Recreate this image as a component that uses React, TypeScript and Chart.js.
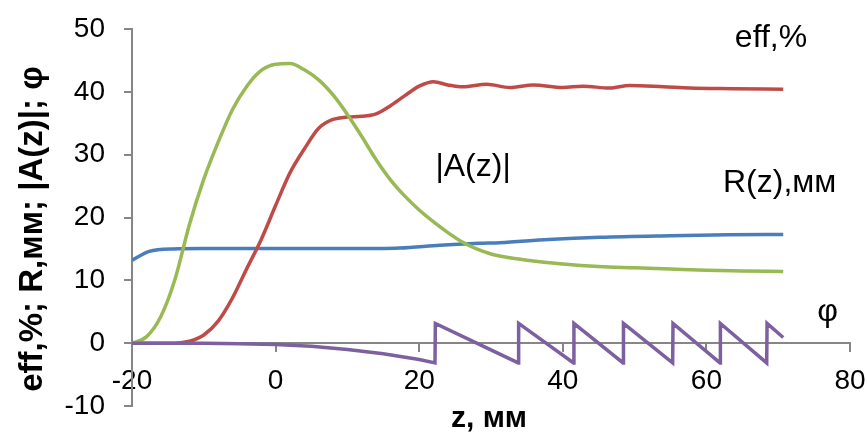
import React, { useEffect, useRef } from "react";
import { Chart, registerables } from "chart.js";

Chart.register(...registerables);

const FONT = "'Liberation Sans', Arial, sans-serif";
const AXIS_COLOR = "#868686";

// eff, %
const zEff = [-20, -14, -12, -10, -8, -6, -4, -2, 0, 2, 4, 6, 8, 10, 12, 14, 16, 18, 20, 22, 24, 26.1, 29.4, 32.6, 35.9, 40, 42.8, 46.5, 49.3, 54, 57.7, 63.7, 70.7];
const effValues = [0, 0, 0.3, 1.3, 3.5, 7.2, 11.9, 16.5, 21.9, 27.1, 30.9, 34.2, 35.6, 36.0, 36.1, 36.5, 37.8, 39.4, 40.9, 41.6, 41.1, 40.8, 41.2, 40.7, 41.1, 40.7, 40.9, 40.6, 41.0, 40.8, 40.6, 40.5, 40.4];

// |A(z)|
const zAmp = [-20, -18, -16, -14, -12, -10, -8, -6, -4, -2, 0, 2, 4, 6, 8, 10, 12, 14, 16, 18, 20, 22, 24, 26, 28, 30, 32, 35, 40, 45, 50, 55, 60, 65, 70.7];
const ampValues = [0, 1.0, 4.2, 10.2, 18.9, 26.1, 32.0, 37.2, 40.9, 43.4, 44.4, 44.5, 43.5, 41.9, 39.5, 36.4, 32.9, 29.2, 26.0, 23.4, 21.2, 19.3, 17.6, 16.1, 15.0, 14.2, 13.7, 13.2, 12.6, 12.2, 12.0, 11.8, 11.6, 11.5, 11.4];

// R(z), мм
const zR = [-20, -17.6, -14.3, -10, 0, 10, 17.3, 22.9, 28.4, 31.2, 38, 45.2, 55, 63, 70.7];
const rValues = [13.2, 14.6, 15.0, 15.05, 15.05, 15.05, 15.15, 15.6, 15.9, 16.0, 16.5, 16.85, 17.1, 17.25, 17.3];

// φ
const zPhi = [-20, -10, -5, 0, 5, 10, 15, 20, 22.2, 22.25, 33.8, 33.85, 41.5, 41.55, 48.4, 48.45, 55.3, 55.35, 61.9, 61.95, 68.4, 68.45, 70.7];
const phiValues = [0, -0.03, -0.08, -0.2, -0.5, -1.0, -1.7, -2.6, -3.14, 3.14, -3.14, 3.14, -3.14, 3.14, -3.14, 3.14, -3.14, 3.14, -3.14, 3.14, -3.14, 3.14, 0.9];

const xTicks = [-20, 0, 20, 40, 60, 80];
const yTicks = [-10, 0, 10, 20, 30, 40, 50];

// series labels placed in data coordinates
const labelTexts = ["eff,%", "|A(z)|", "R(z),мм", "φ"];
const labelZ = [69.0, 27.5, 70.2, 76.9];
const labelV = [47.1, 26.6, 24.1, 3.6];

const xTitle = "z, мм";
const yTitle = "eff,%; R,мм; |A(z)|; φ";

const COLORS = {
  eff: "#BE4B48",
  amp: "#98B954",
  r: "#4A7EBB",
  phi: "#7D60A0",
};

const toPoints = (xs: number[], ys: number[]) => xs.map((x, i) => ({ x, y: ys[i] }));

const textPlugin = {
  id: "textLabels",
  afterDatasetsDraw(chart: any) {
    const { ctx, scales } = chart;
    const xs = scales.x;
    const ys = scales.y;
    ctx.save();
    ctx.fillStyle = "#000";
    ctx.textAlign = "center";
    ctx.textBaseline = "alphabetic";
    ctx.font = `32px ${FONT}`;
    for (let i = 0; i < labelTexts.length; i++) {
      ctx.fillText(labelTexts[i], xs.getPixelForValue(labelZ[i]), ys.getPixelForValue(labelV[i]));
    }
    ctx.font = `bold 30px ${FONT}`;
    ctx.fillText(xTitle, 489, 427);
    ctx.translate(42, 229);
    ctx.rotate(-Math.PI / 2);
    ctx.font = `bold 33px ${FONT}`;
    ctx.fillText(yTitle, 0, 0);
    ctx.restore();
  },
};

export default function App() {
  const canvasRef = useRef<HTMLCanvasElement | null>(null);

  useEffect(() => {
    if (!canvasRef.current) return;
    const lw = 3.5;
    const chart = new Chart(canvasRef.current, {
      type: "line",
      data: {
        datasets: [
          {
            label: "φ",
            data: toPoints(zPhi, phiValues),
            borderColor: COLORS.phi,
            borderWidth: lw,
            pointRadius: 0,
            tension: 0,
            fill: false,
          },
          {
            label: "|A(z)|",
            data: toPoints(zAmp, ampValues),
            borderColor: COLORS.amp,
            borderWidth: lw,
            pointRadius: 0,
            cubicInterpolationMode: "monotone",
            fill: false,
          },
          {
            label: "eff,%",
            data: toPoints(zEff, effValues),
            borderColor: COLORS.eff,
            borderWidth: lw,
            pointRadius: 0,
            cubicInterpolationMode: "monotone",
            fill: false,
          },
          {
            label: "R(z),мм",
            data: toPoints(zR, rValues),
            borderColor: COLORS.r,
            borderWidth: lw,
            pointRadius: 0,
            cubicInterpolationMode: "monotone",
            fill: false,
          },
        ],
      },
      options: {
        responsive: false,
        animation: false,
        layout: { padding: { left: 0, right: 17, top: 29, bottom: 27 } },
        plugins: {
          legend: { display: false },
          tooltip: { enabled: false },
        },
        scales: {
          x: {
            type: "linear",
            min: xTicks[0],
            max: xTicks[xTicks.length - 1],
            position: { y: 0 } as any,
            afterBuildTicks: (s: any) => {
              s.ticks = xTicks.map((v) => ({ value: v }));
            },
            afterFit: (s: any) => {
              s.paddingLeft = 0;
              s.paddingRight = 0;
            },
            ticks: {
              color: "#000",
              font: { size: 28, family: FONT },
              padding: 13,
              maxRotation: 0,
              autoSkip: false,
            },
            grid: {
              display: true,
              drawOnChartArea: false,
              drawTicks: true,
              tickLength: 8,
              color: AXIS_COLOR,
              lineWidth: 2,
            },
            border: { display: true, color: AXIS_COLOR, width: 2 },
          },
          y: {
            type: "linear",
            position: "left",
            min: yTicks[0],
            max: yTicks[yTicks.length - 1],
            afterBuildTicks: (s: any) => {
              s.ticks = yTicks.map((v) => ({ value: v }));
            },
            afterFit: (s: any) => {
              s.width = 132;
              s.paddingTop = 0;
              s.paddingBottom = 0;
            },
            ticks: {
              color: "#000",
              font: { size: 28, family: FONT },
              padding: 19,
              autoSkip: false,
            },
            grid: {
              display: true,
              drawOnChartArea: false,
              drawTicks: true,
              tickLength: 8,
              color: AXIS_COLOR,
              lineWidth: 2,
            },
            border: { display: true, color: AXIS_COLOR, width: 2 },
          },
        },
      } as any,
      plugins: [textPlugin],
    });
    return () => chart.destroy();
  }, []);

  return (
    <div style={{ position: "absolute", left: 0, top: 0, width: 867, height: 433, background: "#fff" }}>
      <canvas ref={canvasRef} width={867} height={433} style={{ display: "block" }} />
    </div>
  );
}
